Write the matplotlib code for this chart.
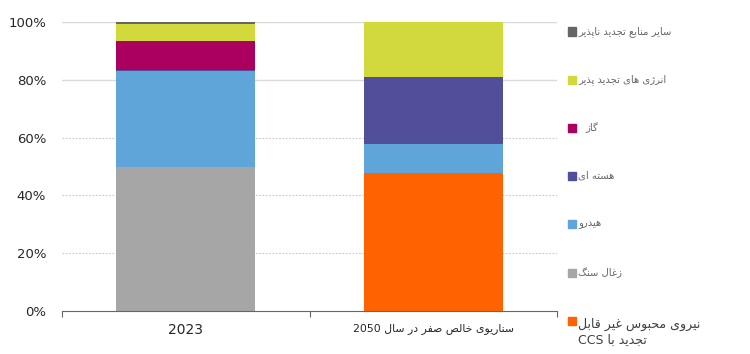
import re
import matplotlib
matplotlib.use("Agg")
import matplotlib.pyplot as plt
from matplotlib.patches import Rectangle

categories = ["2023", "سناریوی خالص صفر در سال 2050"]

# shares in percent, stacked bottom -> top
series_names = [
    "زغال سنگ",
    "نیروی محبوس غیر قابل\nتجدید با CCS",
    "هیدرو",
    "هسته ای",
    "گاز",
    "انرژی های تجدید پذیر",
    "سایر منابع تجدید ناپذیر",
]
coal = [49.8, 0.0]
ccs = [0.0, 47.8]
hydro = [33.2, 10.0]
nuclear = [0.4, 23.2]
gas = [10.0, 0.0]
renewables = [5.9, 19.0]
other = [0.7, 0.0]
series_values = [coal, ccs, hydro, nuclear, gas, renewables, other]
colors = ["#a6a6a6", "#ff6200", "#5fa5d9", "#524f9a", "#ac0061", "#d2d93c", "#666666"]

y_ticks = [0, 20, 40, 60, 80, 100]
y_labels = ["0%", "20%", "40%", "60%", "80%", "100%"]

# legend order top -> bottom, with y position (figure pixels from top)
legend_order = [6, 5, 4, 3, 2, 0, 1]
legend_y = [31.5, 80, 127.5, 176, 224, 272.5, 321]

# --- minimal Persian shaping (presentation forms) + RTL ordering ---
FORMS = {
    "ا": ("\uFE8D", "\uFE8E", None, None),
    "ب": ("\uFE8F", "\uFE90", "\uFE91", "\uFE92"),
    "پ": ("\uFB56", "\uFB57", "\uFB58", "\uFB59"),
    "ت": ("\uFE95", "\uFE96", "\uFE97", "\uFE98"),
    "ج": ("\uFE9D", "\uFE9E", "\uFE9F", "\uFEA0"),
    "ح": ("\uFEA1", "\uFEA2", "\uFEA3", "\uFEA4"),
    "خ": ("\uFEA5", "\uFEA6", "\uFEA7", "\uFEA8"),
    "د": ("\uFEA9", "\uFEAA", None, None),
    "ذ": ("\uFEAB", "\uFEAC", None, None),
    "ر": ("\uFEAD", "\uFEAE", None, None),
    "ز": ("\uFEAF", "\uFEB0", None, None),
    "ژ": ("\uFB8A", "\uFB8B", None, None),
    "س": ("\uFEB1", "\uFEB2", "\uFEB3", "\uFEB4"),
    "ص": ("\uFEB9", "\uFEBA", "\uFEBB", "\uFEBC"),
    "ع": ("\uFEC9", "\uFECA", "\uFECB", "\uFECC"),
    "غ": ("\uFECD", "\uFECE", "\uFECF", "\uFED0"),
    "ف": ("\uFED1", "\uFED2", "\uFED3", "\uFED4"),
    "ق": ("\uFED5", "\uFED6", "\uFED7", "\uFED8"),
    "گ": ("\uFB92", "\uFB93", "\uFB94", "\uFB95"),
    "ل": ("\uFEDD", "\uFEDE", "\uFEDF", "\uFEE0"),
    "م": ("\uFEE1", "\uFEE2", "\uFEE3", "\uFEE4"),
    "ن": ("\uFEE5", "\uFEE6", "\uFEE7", "\uFEE8"),
    "ه": ("\uFEE9", "\uFEEA", "\uFEEB", "\uFEEC"),
    "و": ("\uFEED", "\uFEEE", None, None),
    "ی": ("\uFBFC", "\uFBFD", "\uFBFE", "\uFBFF"),
}


def fa(text):
    lines = []
    for s in text.split("\n"):
        out = []
        for i, c in enumerate(s):
            if c not in FORMS:
                out.append(c)
                continue
            prev = s[i - 1] if i > 0 else ""
            nxt = s[i + 1] if i + 1 < len(s) else ""
            jp = prev in FORMS and FORMS[prev][2] is not None
            jn = nxt in FORMS and FORMS[c][2] is not None
            iso, fin, ini, med = FORMS[c]
            if jp and jn:
                out.append(med)
            elif jp:
                out.append(fin)
            elif jn:
                out.append(ini)
            else:
                out.append(iso)
        vis = "".join(out)[::-1]
        vis = re.sub(r"[A-Za-z0-9]+", lambda m: m.group(0)[::-1], vis)
        lines.append(vis)
    return "\n".join(lines)


plt.rcParams["font.family"] = ["DejaVu Sans"]

fig = plt.figure(figsize=(7.5, 3.54), dpi=100)
W, H = 750, 354
ax = fig.add_axes([62 / W, 1 - 311 / H, (557 - 62) / W, (311 - 22) / H])

x = list(range(len(categories)))
for v in y_ticks[1:]:
    if v >= 80:
        ax.axhline(v, color="#d9d9d9", lw=1.0, zorder=0)
    else:
        ax.axhline(v, color="#c8c8c8", lw=0.8, ls=(0, (1.5, 1.5)), zorder=0)

bottom = [0.0] * len(categories)
for vals, col in zip(series_values, colors):
    ax.bar(x, vals, width=0.56, bottom=bottom, color=col, zorder=2, linewidth=0)
    bottom = [b + v for b, v in zip(bottom, vals)]

ax.set_xlim(-0.5, 1.5)
ax.set_ylim(0, 100)
ax.set_yticks(y_ticks)
ax.set_yticklabels(y_labels, fontsize=9.5, color="#262626")
ax.tick_params(axis="y", length=0, pad=11.5)
ax.set_xticks(x)
ax.set_xticklabels([fa(c) for c in categories])
ax.tick_params(axis="x", length=0, pad=9)
xl = ax.get_xticklabels()
xl[0].set_fontsize(10)
xl[1].set_fontsize(7.8)
for t in xl:
    t.set_color("#262626")
ax.set_xticks([-0.5, 0.5, 1.5], minor=True)
ax.tick_params(axis="x", which="minor", length=4, color="#666666", width=0.8)
for s in ["left", "right", "top"]:
    ax.spines[s].set_visible(False)
ax.spines["bottom"].set_color("#666666")
ax.spines["bottom"].set_linewidth(0.8)

# legend on the right
for k, yy in zip(legend_order, legend_y):
    fig.patches.append(Rectangle((568 / W, 1 - (yy + 4) / H), 8 / W, 8 / H,
                                 transform=fig.transFigure, color=colors[k]))
    name = series_names[k]
    if k == 1:
        fig.text(578 / W, 1 - (yy - 3) / H, fa(name), fontsize=9, color="#404040",
                 va="top", ha="left", linespacing=1.3)
    else:
        dx = 7 if k == 4 else 0
        fig.text((578 + dx) / W, 1 - yy / H, fa(name), fontsize=7.2, color="#666666",
                 va="center", ha="left")

fig.savefig("out.png", dpi=100)
